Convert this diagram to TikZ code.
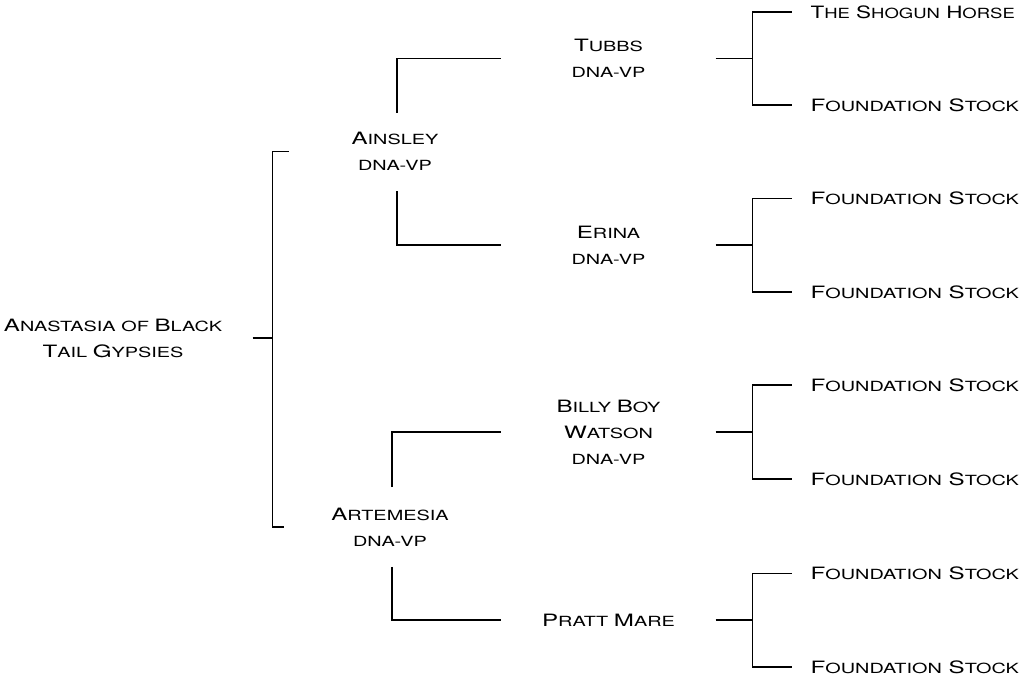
\documentclass[tikz,border=0pt]{standalone}
\usepackage{fontspec}
\setmainfont{TeX Gyre Heros}[FakeStretch=1.42]
\usetikzlibrary{positioning}
\usetikzlibrary{calc}
\newcommand\lc{\fontsize{14}{26}\selectfont}
\tikzset{
foal/.style={
  inner sep=0pt,
  align=center,
  text width=278pt
  },
sire/.style={
  inner sep=0pt,
  align=center,
  text width=210pt
  },
gsire/.style={
  inner sep=0pt,
  align=center,
  text width=213pt
  },
ggsire/.style={
  anchor=west,
  inner sep=0pt,
  inner xsep=18pt
  }
}

\begin{document}
\begin{tikzpicture}[x=1pt,y=-1pt,line width=1.2pt,font=\fontsize{17}{26}\selectfont]
        \useasboundingbox (0,0) rectangle (1025,675);
        \node[foal] at (113,338) (anastasia) {A{\lc NASTASIA OF} B{\lc LACK}\\T{\lc AIL} G{\lc YPSIES}};
        \node[sire] at (395,151.5) (ainsley) {A{\lc INSLEY}\\{\lc DNA-VP}};
        \node[sire] at (390,527) (artemesia) {A{\lc RTEMESIA}\\{\lc DNA-VP}};
        \node[gsire] at (608.5,58.5) (tubbs) {T{\lc UBBS}\\{\lc DNA-VP}};
        \node[gsire] at (608.5,245) (erina) {E{\lc RINA}\\{\lc DNA-VP}};
        \node[gsire] at (608.5,432) (billy) {B{\lc ILLY} B{\lc OY}\\W{\lc ATSON}\\{\lc DNA-VP}};
        \node[gsire] at (608.5,620) (pratt) {P{\lc RATT} M{\lc ARE}};
        \node[ggsire] at (792,12) (shogun) {\scalebox{0.93}[1]{T{\lc HE} S{\lc HOGUN} H{\lc ORSE}}};
        \node[ggsire] at (792,105) (fs1) {F{\lc OUNDATION} S{\lc TOCK}};
        \node[ggsire] at (792,198.5) (fs2) {F{\lc OUNDATION} S{\lc TOCK}};
        \node[ggsire] at (792,292) (fs3) {F{\lc OUNDATION} S{\lc TOCK}};
        \node[ggsire] at (792,385) (fs4) {F{\lc OUNDATION} S{\lc TOCK}};
        \node[ggsire] at (792,479) (fs5) {F{\lc OUNDATION} S{\lc TOCK}};
        \node[ggsire] at (792,573.5) (fs6) {F{\lc OUNDATION} S{\lc TOCK}};
        \node[ggsire] at (792,667) (fs7) {F{\lc OUNDATION} S{\lc TOCK}};
        % first generation
        \draw (anastasia.east) -- ++(20,0) coordinate (anabar);
        \draw (anabar) |- (ainsley.west);
        \draw (anabar) |- (artemesia.west);
        % second generation
        \draw[shorten <=19pt] ([xshift=2pt]ainsley.north) |- (tubbs.west);
        \draw[shorten <=20pt] ([xshift=2pt]ainsley.south) |- (erina.west);
        \draw[shorten <=20pt] ([xshift=2pt]artemesia.north) |- (billy.west);
        \draw[shorten <=20pt] ([xshift=2pt]artemesia.south) |- (pratt.west);
        % third generation
        \draw (tubbs.east) -- ++(37,0) coordinate (tubbsbar);
        \draw (tubbsbar) |- (shogun.west);
        \draw (tubbsbar) |- (fs1.west);
        \draw (erina.east) -- ++(37,0) coordinate (erinabar);
        \draw (erinabar) |- (fs2.west);
        \draw (erinabar) |- (fs3.west);
        \draw (billy.east) -- ++(37,0) coordinate (billybar);
        \draw (billybar) |- (fs4.west);
        \draw (billybar) |- (fs5.west);
        \draw (pratt.east) -- ++(37,0) coordinate (prattbar);
        \draw (prattbar) |- (fs6.west);
        \draw (prattbar) |- (fs7.west);
    \end{tikzpicture}
\end{document}
